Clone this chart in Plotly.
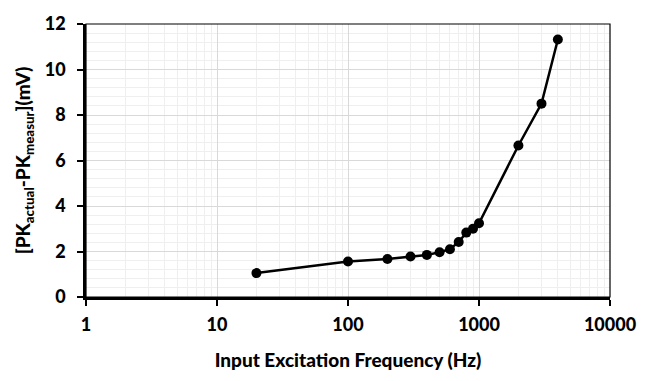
import plotly.graph_objects as go

freq_hz = [20, 100, 200, 300, 400, 500, 600, 700, 800, 900, 1000, 2000, 3000, 4000]
pk_diff_mv = [1.05, 1.56, 1.67, 1.78, 1.85, 1.97, 2.10, 2.42, 2.83, 3.00, 3.24, 6.66, 8.50, 11.32]

x_tick_vals = [1, 10, 100, 1000, 10000]
x_tick_text = ["1", "10", "100", "1000", "10000"]

FONT = "Lato"
W = 900

fig = go.Figure()
fig.add_trace(go.Scatter(
    x=freq_hz, y=pk_diff_mv, mode="lines+markers",
    line=dict(color="black", width=2.5),
    marker=dict(color="black", size=10),
    showlegend=False, cliponaxis=False,
))

fig.update_layout(
    width=654, height=381,
    margin=dict(l=86, r=44, t=15, b=84),
    paper_bgcolor="white", plot_bgcolor="white",
    font=dict(family=FONT, color="black"),
    shapes=[dict(type="rect", xref="paper", yref="paper", x0=0, y0=0, x1=1, y1=1,
                 line=dict(color="black", width=1.2), layer="above")],
)

fig.update_xaxes(
    type="log", range=[0, 4],
    tickvals=x_tick_vals, ticktext=x_tick_text,
    tickfont=dict(size=18, family=FONT, weight=W),
    ticks="outside", ticklen=6, tickwidth=1.5, tickcolor="black",
    ticklabelstandoff=4,
    showline=True, linecolor="black", linewidth=2.5,
    showgrid=True, gridcolor="#d9d9d9", gridwidth=1,
    minor=dict(dtick="D1", showgrid=True, gridcolor="#efefef", gridwidth=1, ticks=""),
    title=dict(text="Input Excitation Frequency (Hz)", font=dict(size=19, family=FONT, weight=W), standoff=20),
    zeroline=False,
)
fig.update_yaxes(
    range=[0, 12], dtick=2,
    tickfont=dict(size=18, family=FONT, weight=W),
    ticks="outside", ticklen=6, tickwidth=1.5, tickcolor="black",
    ticklabelstandoff=8,
    showline=True, linecolor="black", linewidth=2.5,
    showgrid=True, gridcolor="#d9d9d9", gridwidth=1,
    minor=dict(dtick=0.4, showgrid=True, gridcolor="#efefef", gridwidth=1, ticks=""),
    title=dict(text="[PK<sub>actual</sub>-PK<sub>measur</sub>](mV)", font=dict(size=19, family=FONT, weight=W), standoff=10),
    zeroline=False,
)

fig.write_html("out.html")
